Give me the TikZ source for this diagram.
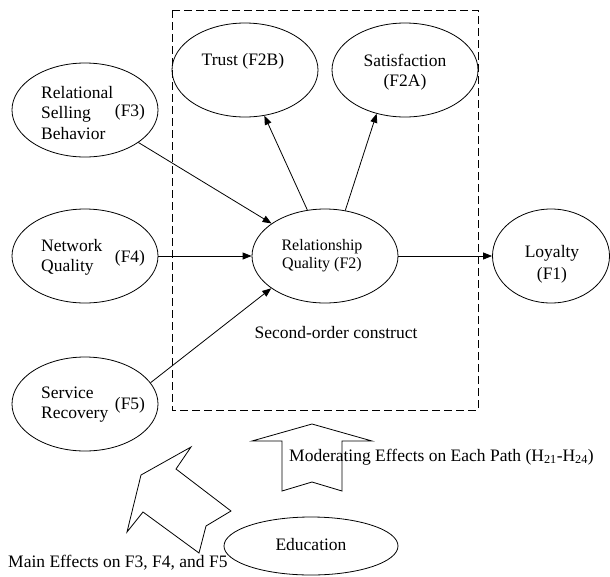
\documentclass[tikz,border=0pt]{standalone}
\usepackage{fontspec}
\setmainfont{Liberation Serif}
\usetikzlibrary{shapes.geometric,arrows.meta}
\begin{document}
\begin{tikzpicture}[x=1pt,y=-1pt,
  ell/.style={draw,ellipse,line width=0.8pt,inner sep=0pt,minimum width=146pt,minimum height=94pt},
  lbl/.style={font=\fontsize{17.5}{20.5}\selectfont,inner sep=0pt},
  arr/.style={line width=0.8pt,-{Triangle[length=9pt,width=7pt]}},
  block/.style={draw,line width=0.8pt,line join=miter}]
\useasboundingbox (0,0) rectangle (610,576);
\draw[dash pattern=on 8pt off 4pt, line width=0.8pt] (172,10) rectangle (478,410);
% ellipses
\node[ell] (trust) at (245,70) {};
\node[ell] (sat) at (405,70) {};
\node[ell] (rsb) at (85,110) {};
\node[ell] (nq) at (85,256) {};
\node[ell] (sr) at (85,404) {};
\node[ell] (rq) at (325,256) {};
\node[ell,minimum width=117pt] (loy) at (551,256) {};
\node[ell,minimum width=174pt,minimum height=58pt] (edu) at (311,546) {};
% texts
\node[lbl] (ttrust) at (243,61) {Trust (F2B)};
\node[lbl,align=center] (tsat) at (405,72) {Satisfaction\\(F2A)};
\node[lbl,align=left,anchor=west] (trsb) at (41,113) {Relational\\Selling\\Behavior};
\node[lbl] (tf3) at (130,112) {(F3)};
\node[lbl,align=left,anchor=west] (tnq) at (41,257.5) {Network\\Quality};
\node[lbl] (tf4) at (130,258) {(F4)};
\node[lbl,align=left,anchor=west] (tsr) at (41,404.5) {Service\\Recovery};
\node[lbl] (tf5) at (130,405) {(F5)};
\node[lbl,font=\fontsize{16}{18}\selectfont,align=center] (trq) at (322,256) {Relationship\\Quality (F2)};
\node[lbl,font=\fontsize{17.5}{22}\selectfont,align=center] (tloy) at (552,264) {Loyalty\\(F1)};
\node[lbl] (tsoc) at (336,333) {Second-order construct};
\node[lbl] (tedu) at (311,545) {Education};
\node[lbl,anchor=west] (tmain) at (8,563) {Main Effects on F3, F4, and F5};
% arrows
\draw[arr] (rsb) -- (rq);
\draw[arr] (nq) -- (rq);
\draw[arr] (sr.18) -- (rq.211);
\draw[arr] (rq.111) -- (trust.293);
\draw[arr] (rq.66) -- (sat.237);
\draw[arr] (rq) -- (loy);
% block arrows
\draw[block] (252,441) -- (312,424) -- (372,441) -- (342,441) -- (342,491) -- (312,482) -- (282,491) -- (282,441) -- cycle;
\draw[block] (141,475) -- (191,447) -- (176,469) -- (231,511) -- (206,526) -- (199,553) -- (143,512) -- (127,532) -- cycle;
\node[lbl,anchor=west] (tmod) at (289,457) {Moderating Effects on Each Path (H\textsubscript{21}-H\textsubscript{24})};
\end{tikzpicture}
\end{document}
